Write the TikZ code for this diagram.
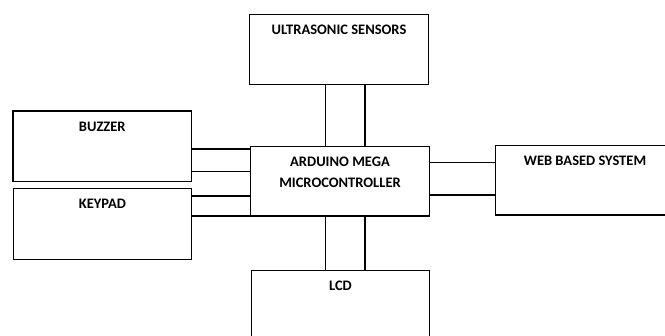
\documentclass[tikz,border=0pt]{standalone}
\usepackage{fontspec}
\setmainfont{Carlito}
\usepackage{tikz}
\tikzset{blk/.style={draw=black,line width=1.2pt,minimum width=178.5pt,minimum height=70.5pt,inner sep=0pt},
  wire/.style={draw=black,line width=1.2pt},
  lbl/.style={anchor=north,yshift=-11pt,inner sep=0pt,align=center,
    font=\bfseries\fontsize{14.5}{21}\selectfont}}
\begin{document}
\begin{tikzpicture}[x=1pt,y=1pt]
  \useasboundingbox (0,0) rectangle (665,336);
  \clip (0,0) rectangle (665,336);
  \node[blk,label={[lbl]north:ULTRASONIC SENSORS}] (us) at (339,286.5) {};
  \node[blk,label={[lbl]north:BUZZER}] (bz) at (102.3,189.7) {};
  \node[blk,label={[lbl]north:KEYPAD}] (kp) at (102.5,112) {};
  \node[blk,minimum height=69.3pt,label={[lbl]north:ARDUINO MEGA\\MICROCONTROLLER}] (ard) at (340,154.7) {};
  \node[blk,minimum height=69.3pt,label={[lbl]north:WEB BASED SYSTEM}] (web) at (585,155.7) {};
  \node[blk,label={[lbl]north:LCD}] (lcd) at (340.5,30) {};
  % sensors and display
  \draw[wire] ([xshift=-14.3pt]ard.north) -- ([xshift=-14.3pt]ard.north |- us.south);
  \draw[wire] ([xshift=25pt]ard.north) -- ([xshift=25pt]ard.north |- us.south);
  \draw[wire] ([xshift=-14.3pt]ard.south) -- ([xshift=-14.3pt]ard.south |- lcd.north);
  \draw[wire] ([xshift=25pt]ard.south) -- ([xshift=25pt]ard.south |- lcd.north);
  % buzzer and keypad
  \draw[wire] ([yshift=-2.7pt]bz.east) -- ([yshift=-2.7pt]bz.east -| ard.west);
  \draw[wire] ([yshift=-25pt]bz.east) -- ([yshift=-25pt]bz.east -| ard.west);
  \draw[wire] ([yshift=28pt]kp.east) -- ([yshift=28pt]kp.east -| ard.west);
  \draw[wire] ([yshift=8pt]kp.east) -- ([yshift=8pt]kp.east -| ard.west);
  % web link
  \draw[wire] ([yshift=19pt]ard.east) -- ([yshift=19pt]ard.east -| web.west);
  \draw[wire] ([yshift=-13.7pt]ard.east) -- ([yshift=-13.7pt]ard.east -| web.west);
\end{tikzpicture}
\end{document}
